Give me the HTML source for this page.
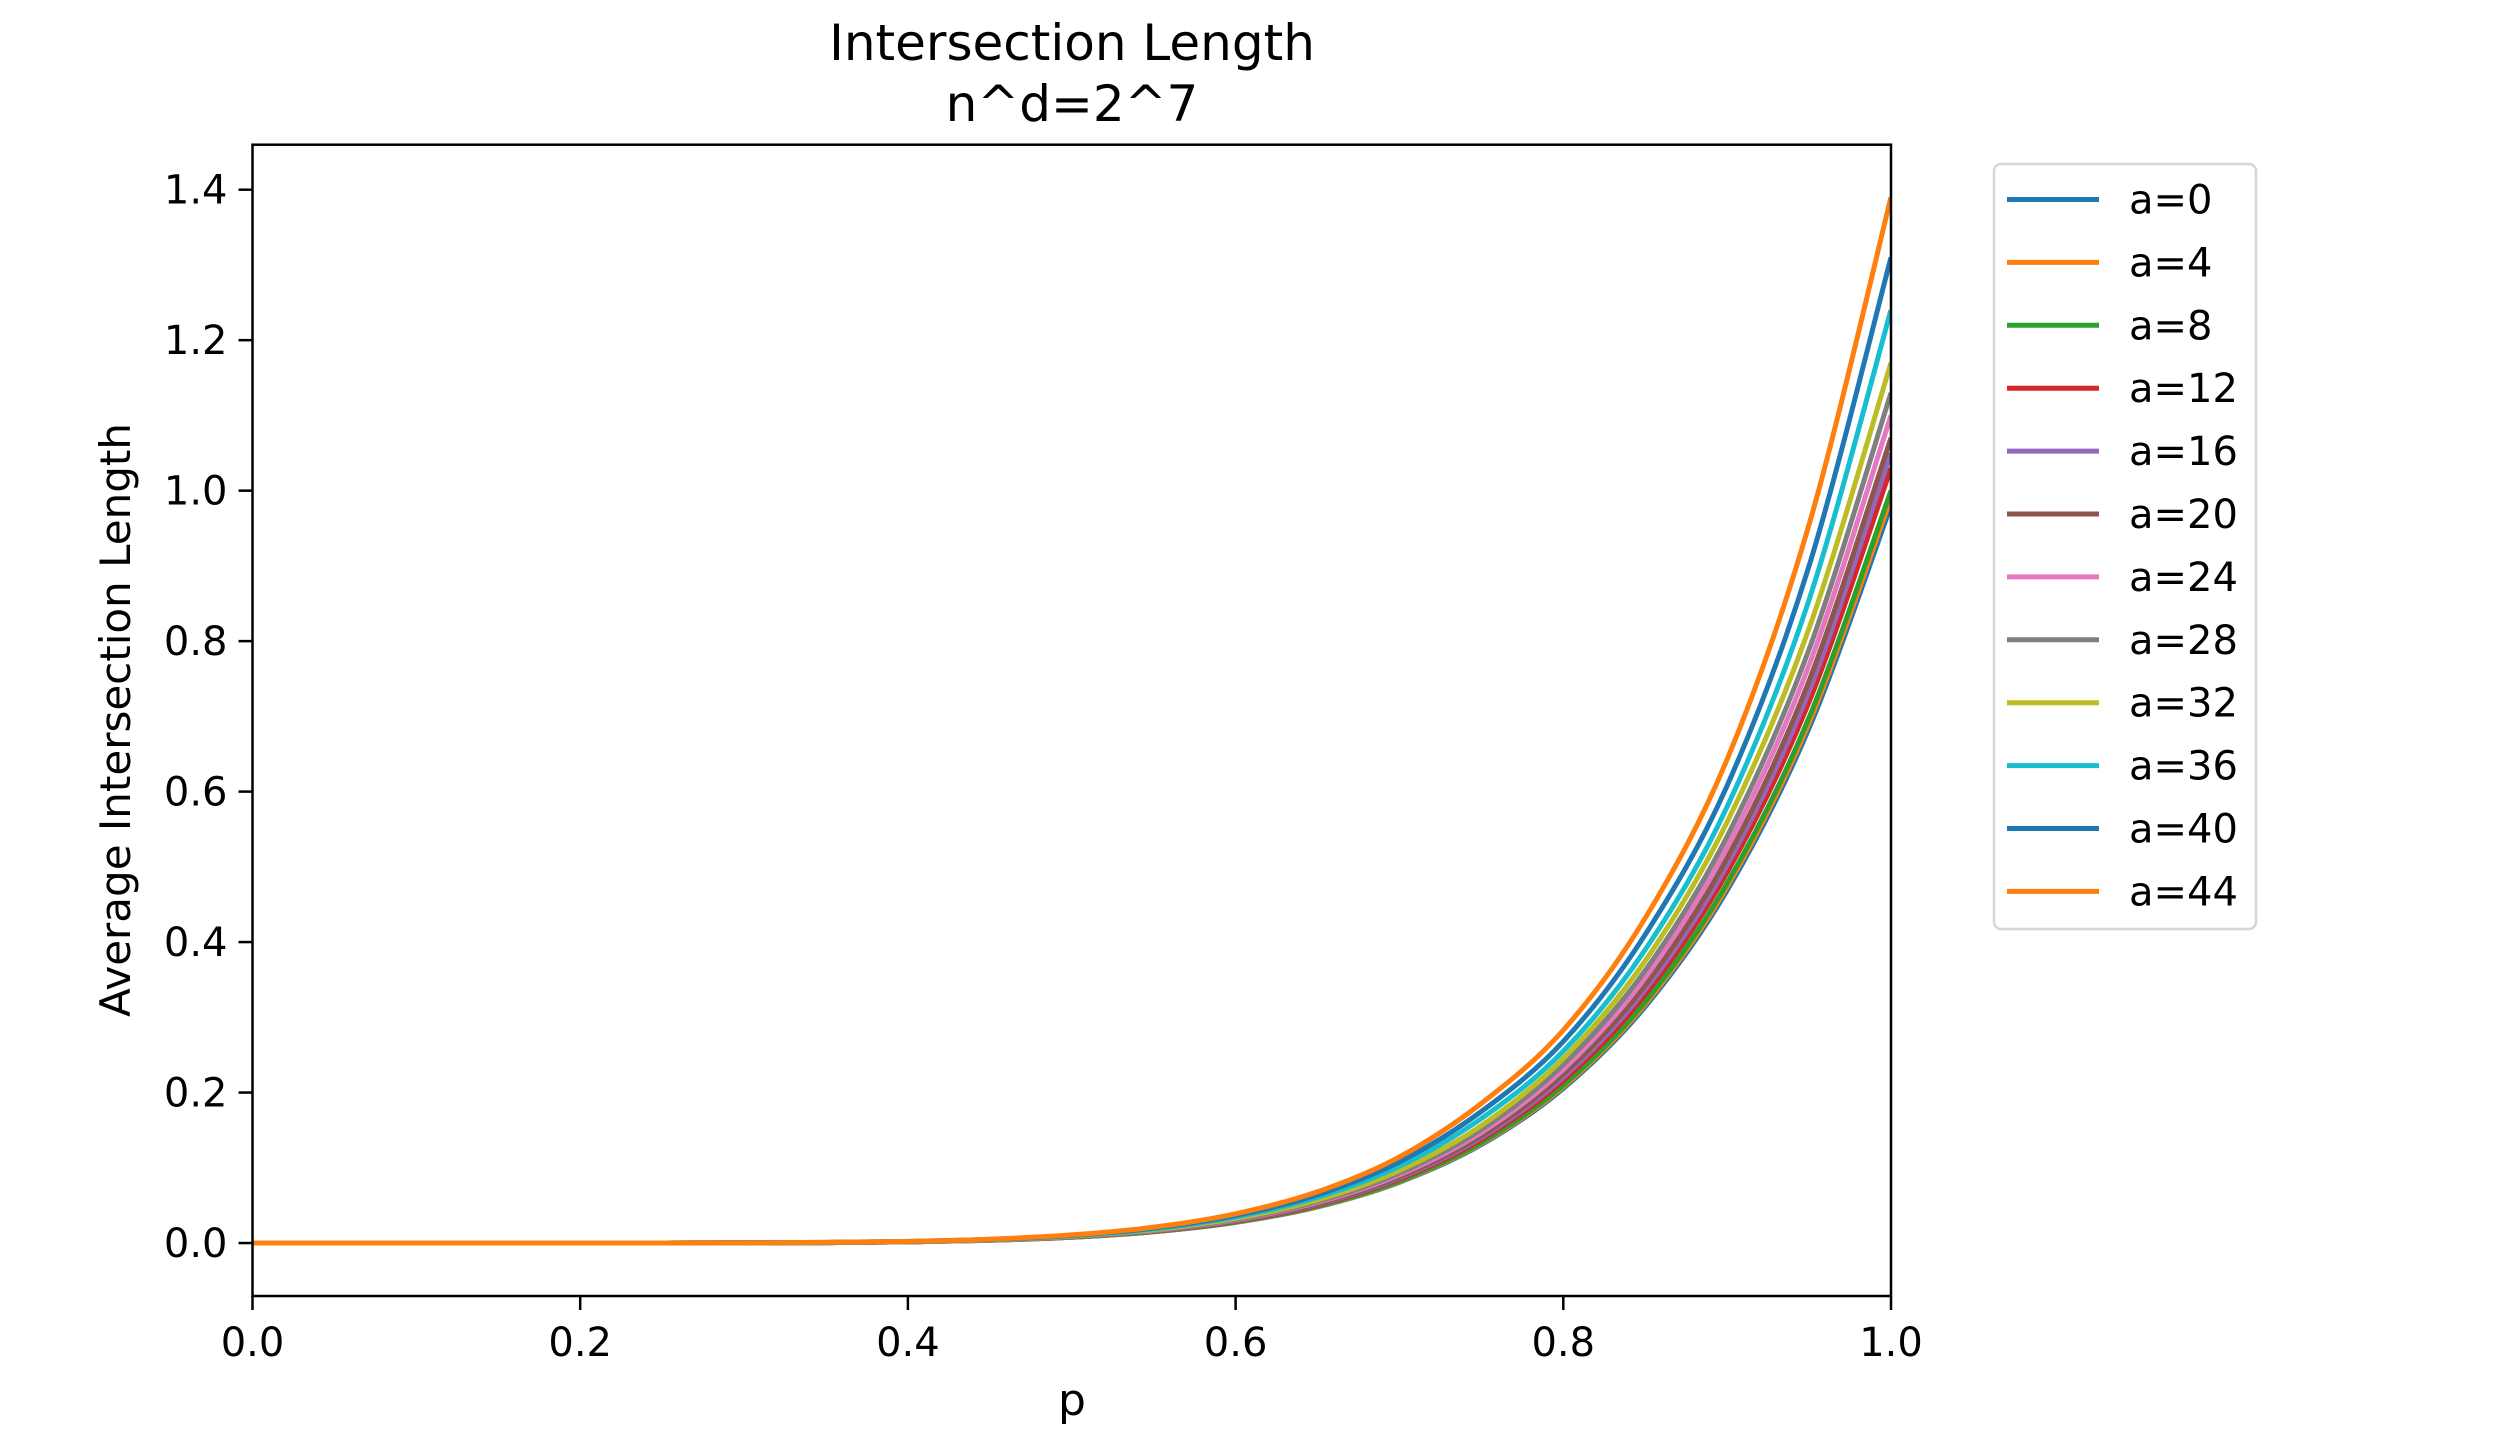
<!DOCTYPE html>
<html><head><meta charset="utf-8"><style>
html,body{margin:0;padding:0;background:#fff;}
svg{display:block;font-family:"DejaVu Sans","Liberation Sans",sans-serif;}
</style></head><body>
<svg id="chart" width="2520" height="1440" viewBox="0 0 2520 1440" xmlns="http://www.w3.org/2000/svg">
<rect width="2520" height="1440" fill="#fff"/>
<text x="1072" y="60" font-size="50" text-anchor="middle">Intersection Length</text>
<text x="1072" y="121" font-size="50" text-anchor="middle">n^d=2^7</text>
<g id="plot"></g>
<text x="1072" y="1415" font-size="44" text-anchor="middle">p</text>
<text transform="translate(130,720) rotate(-90)" font-size="42" text-anchor="middle">Average Intersection Length</text>
<g id="legend"></g>
</svg>
<script>
const pValues=[0,0.05,0.1,0.15,0.2,0.25,0.3,0.35,0.4,0.45,0.5,0.55,0.6,0.65,0.7,0.75,0.8,0.85,0.9,0.95,1];
const seriesLabels=["a=0","a=4","a=8","a=12","a=16","a=20","a=24","a=28","a=32","a=36","a=40","a=44"];
const seriesColors=["#1f77b4","#ff7f0e","#2ca02c","#d62728","#9467bd","#8c564b","#e377c2","#7f7f7f","#bcbd22","#17becf","#1f77b4","#ff7f0e"];
const z=[0,0,0,0,0,0];
const a0=z.concat([0.0002,0.0006,0.0016,0.0036,0.0076,0.0149,0.0274,0.048,0.0808,0.1308,0.2055,0.3142,0.4687,0.6843,0.98]);
const a4=z.concat([0.0002,0.0006,0.0016,0.0037,0.0077,0.015,0.0277,0.0485,0.0816,0.1322,0.2076,0.3174,0.4735,0.6913,0.99]);
const a8=z.concat([0.0002,0.0006,0.0016,0.0037,0.0078,0.0152,0.028,0.049,0.0824,0.1335,0.2097,0.3206,0.4783,0.6983,1.0]);
const a12=z.concat([0.0002,0.0006,0.0016,0.0038,0.008,0.0157,0.0288,0.0505,0.0849,0.1375,0.216,0.3302,0.4926,0.7192,1.03]);
const a16=z.concat([0.0002,0.0006,0.0017,0.0039,0.0082,0.016,0.0294,0.0515,0.0865,0.1402,0.2202,0.3366,0.5022,0.7332,1.05]);
const a20=z.concat([0.0002,0.0006,0.0017,0.004,0.0083,0.0163,0.03,0.0524,0.0882,0.1428,0.2244,0.343,0.5118,0.7472,1.07]);
const a24=z.concat([0.0002,0.0007,0.0018,0.0041,0.0086,0.0167,0.0308,0.0539,0.0906,0.1469,0.2307,0.3527,0.5261,0.7681,1.10]);
const a28=z.concat([0.0002,0.0007,0.0018,0.0042,0.0088,0.0172,0.0316,0.0554,0.0931,0.1509,0.237,0.3623,0.5405,0.7891,1.13]);
const a32=z.concat([0.0002,0.0007,0.0019,0.0043,0.0091,0.0178,0.0328,0.0573,0.0964,0.1562,0.2453,0.3751,0.5596,0.817,1.17]);
const a36=z.concat([0.0002,0.0007,0.002,0.0046,0.0097,0.0188,0.0347,0.0608,0.1022,0.1655,0.255,0.39,0.5800,0.855,1.24]);
const a40=z.concat([0.0003,0.0008,0.0021,0.0048,0.0102,0.0199,0.0367,0.0642,0.1079,0.1749,0.268,0.41,0.6080,0.900,1.31]);
const a44=z.concat([0.0003,0.0008,0.0022,0.0051,0.0108,0.0211,0.0389,0.0681,0.1145,0.1856,0.283,0.432,0.6430,0.955,1.39]);
const seriesValues=[a0,a4,a8,a12,a16,a20,a24,a28,a32,a36,a40,a44];
const xTicks=[0,0.2,0.4,0.6,0.8,1.0];
const xTickLabels=["0.0","0.2","0.4","0.6","0.8","1.0"];
const yTicks=[0,0.2,0.4,0.6,0.8,1.0,1.2,1.4];
const yTickLabels=["0.0","0.2","0.4","0.6","0.8","1.0","1.2","1.4"];

const NS="http://www.w3.org/2000/svg";
const L=252.5,R=1891,T=144.7,B=1296;
const xMin=0,xMax=1,yMin=-0.0704,yMax=1.4598;
function xs(v){return L+(v-xMin)/(xMax-xMin)*(R-L);}
function ys(v){return B-(v-yMin)/(yMax-yMin)*(B-T);}
function mk(tag,attrs,parent){const e=document.createElementNS(NS,tag);for(const k in attrs)e.setAttribute(k,attrs[k]);parent.appendChild(e);return e;}
function smoothPath(pts){
  let d='M'+pts[0][0].toFixed(2)+','+pts[0][1].toFixed(2);
  for(let i=0;i<pts.length-1;i++){
    const p0=pts[Math.max(0,i-1)],p1=pts[i],p2=pts[i+1],p3=pts[Math.min(pts.length-1,i+2)];
    const c1=[p1[0]+(p2[0]-p0[0])/6,p1[1]+(p2[1]-p0[1])/6];
    const c2=[p2[0]-(p3[0]-p1[0])/6,p2[1]-(p3[1]-p1[1])/6];
    d+=' C'+c1[0].toFixed(2)+','+c1[1].toFixed(2)+' '+c2[0].toFixed(2)+','+c2[1].toFixed(2)+' '+p2[0].toFixed(2)+','+p2[1].toFixed(2);
  }
  return d;
}
const plot=document.getElementById('plot');
const clip=mk('clipPath',{id:'clip'},plot);
mk('rect',{x:L,y:T,width:R-L,height:B-T},clip);
for(let s=0;s<seriesValues.length;s++){
  const pts=seriesValues[s].map((v,i)=>[xs(pValues[i]),ys(v)]);
  const p=mk('path',{d:smoothPath(pts),fill:'none',stroke:seriesColors[s],'stroke-width':5,'stroke-linejoin':'round','clip-path':'url(#clip)'},plot);
  
  
}
const frame=mk('rect',{x:L,y:T,width:R-L,height:B-T,fill:'none',stroke:'#000','stroke-width':2.5},plot);


for(let i=0;i<xTicks.length;i++){
  const x=xs(xTicks[i]);
  const t=mk('line',{x1:x,y1:B,x2:x,y2:B+14,stroke:'#000','stroke-width':2.5},plot);
  
  
  const lb=mk('text',{x:x,y:B+60,'font-size':40,'text-anchor':'middle'},plot);
  lb.textContent=xTickLabels[i];
  
  
}
for(let i=0;i<yTicks.length;i++){
  const y=ys(yTicks[i]);
  const t=mk('line',{x1:L-14,y1:y,x2:L,y2:y,stroke:'#000','stroke-width':2.5},plot);
  
  
  const lb=mk('text',{x:L-25,y:y+14,'font-size':40,'text-anchor':'end'},plot);
  lb.textContent=yTickLabels[i];
  
  
}
const lg=document.getElementById('legend');
const box=mk('rect',{x:1994,y:164,width:262,height:765,rx:7,fill:'#fff',stroke:'#d6d6d6','stroke-width':2.5},lg);


for(let s=0;s<seriesLabels.length;s++){
  const y=199.5+s*62.9;
  const g=mk('g',{},lg);
  
  
  mk('line',{x1:2007,y1:y,x2:2099,y2:y,stroke:seriesColors[s],'stroke-width':5},g);
  const t=mk('text',{x:2129,y:y+14,'font-size':40},g);
  t.textContent=seriesLabels[s];
}
</script>
</body></html>
